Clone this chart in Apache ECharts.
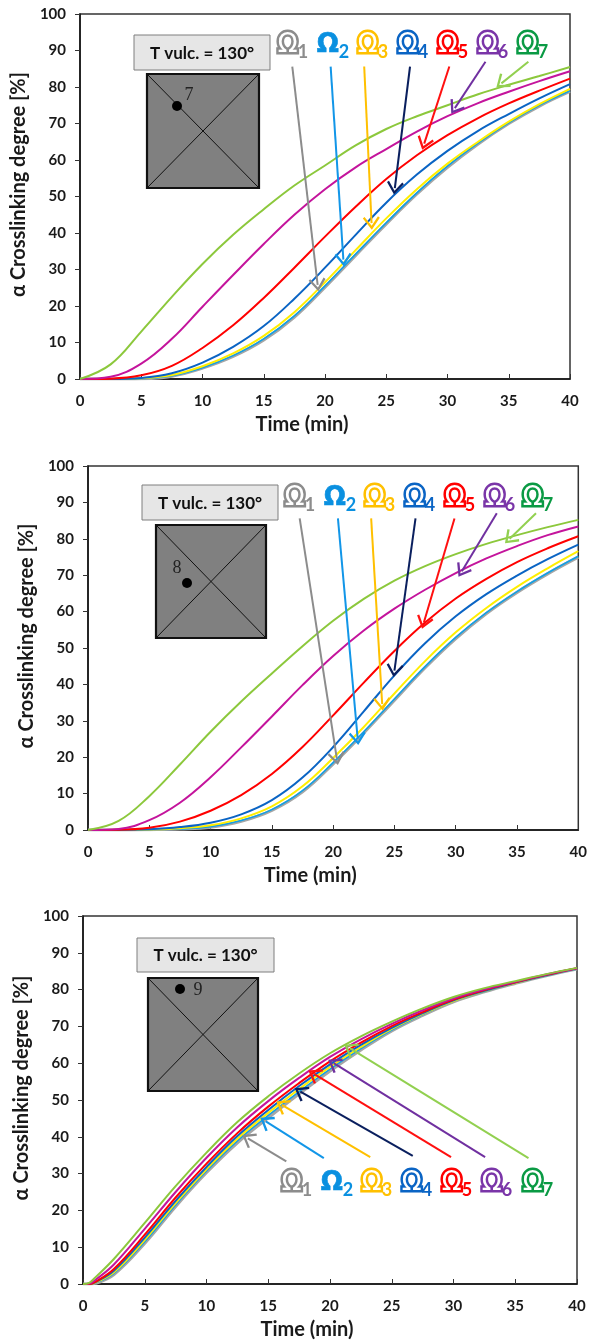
<!DOCTYPE html>
<html><head><meta charset="utf-8">
<script src="https://cdn.jsdelivr.net/npm/echarts@6/dist/echarts.min.js"></script>
<style>html,body{margin:0;padding:0;background:#fff}#c{width:590px;height:1343px}</style>
</head><body><div id="c"></div>
<script>
// ---------------- DATA ----------------
const seriesNames = ['Ω1','Ω2','Ω3','Ω4','Ω5','Ω6','Ω7'];
const xTicks = [0,5,10,15,20,25,30,35,40];
const yTicks = [0,10,20,30,40,50,60,70,80,90,100];

// Panel 1 (point 7)
const time1 = [0,2.5,5,7.5,10,12.5,15,17.5,20,22.5,25,27.5,30,32.5,35,37.5,40];
const p1_O1 = [0,0,0.1,0.8,3,6.2,10.7,17,25.2,33.9,42.5,50.7,58,64.4,70,74.8,78.8];
const p1_O2 = [0,0,0.1,0.9,3.1,6.4,11,17.3,25.5,34.2,42.8,51,58.3,64.6,70.2,75,79];
const p1_O3 = [0,0,0.2,1.1,3.5,7,11.8,18.3,26.5,35.3,44,52,59,65,70.5,75.3,79.5];
const p1_O4 = [0,0,0.3,1.6,4.5,8.8,14.5,22,30.5,39.5,48.3,56,62.5,68,72.6,76.9,80.8];
const p1_O5 = [0,0.1,1,3.6,8.5,14.7,22.2,30.5,39,47.2,54.8,61.3,66.8,71.5,75.5,79,82.3];
const p1_O6 = [0,0.6,4.2,11,19.8,28.5,37,45,52,58,63,67.8,72,75.6,78.7,81.6,84.3];
const p1_O7 = [0,4,13,22.5,31.5,39.5,46.5,53,58.5,64,68.5,72,75,78,80.6,83,85.5];
const p1_arrowStart = [[17.33,85.6],[20.46,85.6],[23.2,85.6],[26.94,85.6],[30.15,85.6],[33.1,86.9],[36.6,86.9]];
const p1_arrowEnd   = [[19.4,25.8],[21.5,32.7],[23.8,42.7],[25.7,52.3],[28.1,64.5],[30.6,74.2],[34.4,81]];

// Panel 2 (point 8)
const time2 = [0,2.5,5,7.5,10,12.5,15,17.5,20,22.5,25,27.5,30,32.5,35,37.5,40];
const p2_O1 = [0,0,0.1,0.3,0.8,2.4,5.4,10.5,18.2,26.7,35.7,44.6,52.6,59.5,65.3,70.4,75];
const p2_O2 = [0,0,0.1,0.3,0.9,2.6,5.6,10.8,18.5,27,36,44.9,52.9,59.7,65.5,70.6,75.2];
const p2_O3 = [0,0,0.15,0.5,1.3,3.2,6.5,12,19.8,28.3,37.5,46.4,54.3,61,66.8,71.9,76.6];
const p2_O4 = [0,0,0.2,0.8,2,4.3,8.2,14.4,22.8,32.6,42.5,51.3,58.7,64.8,69.9,74.4,78.4];
const p2_O5 = [0,0.05,0.6,2.3,5.3,9.6,15.4,22.8,31.5,40.5,49.2,57,63.6,69,73.6,77.4,80.7];
const p2_O6 = [0,0.3,2.7,7.5,14.5,22.7,31.2,39.8,47.8,54.8,60.8,66,70.6,74.6,78,81,83.4];
const p2_O7 = [0,2.5,9.3,18,27,35.3,43,50.5,57.5,63.5,68.5,72.5,75.8,78.6,81,83.2,85.2];
const p2_arrowStart = [[17.27,85.6],[20.39,85.6],[23.1,85.6],[26.72,85.6],[29.9,85.6],[33.35,87],[36.55,87]];
const p2_arrowEnd   = [[20.3,19.6],[22,25.1],[24,34.6],[25,43.8],[27.4,57],[30.5,71.1],[34.4,80]];

// Panel 3 (point 9)
const time3 = [0,0.5,1,2.5,5,7.5,10,12.5,15,17.5,20,22.5,25,27.5,30,32.5,35,37.5,40];
const p3_O1 = [0,0,0.2,2.6,11.1,21.1,30.3,38.4,45.2,51.7,57.9,63.6,68.8,73,76.7,79.4,81.7,83.8,85.6];
const p3_O2 = [0,0,0.3,2.9,11.5,21.5,30.7,38.9,45.8,52.3,58.4,64,69,73.2,76.8,79.5,81.8,83.8,85.6];
const p3_O3 = [0,0,0.4,3.2,12,22,31.2,39.5,46.5,53,59,64.4,69.3,73.4,76.9,79.6,81.8,83.9,85.7];
const p3_O4 = [0,0,0.5,3.6,12.6,22.6,31.8,40.2,47.3,53.8,59.7,65,69.6,73.6,77.1,79.7,81.9,83.9,85.7];
const p3_O5 = [0,0,0.6,4.1,13.4,23.5,32.7,41,48.2,54.6,60.5,65.6,70.1,73.9,77.3,79.9,82,84,85.8];
const p3_O6 = [0,0.1,1.1,5.3,15,25,34.3,42.6,49.7,56,61.7,66.5,70.7,74.4,77.6,80.1,82.1,84.1,85.8];
const p3_O7 = [0,0.3,1.8,6.8,16.6,26.6,35.7,44,51,57.2,62.7,67.3,71.3,74.9,78,80.4,82.3,84.2,85.9];
const p3_arrowStart = [[16.46,33.3],[19.5,34.2],[23.26,34.5],[26.7,34.8],[29.8,34.5],[32.56,34.5],[36.07,34.2]];
const p3_arrowEnd   = [[13.35,39.6],[14.8,44.2],[16.1,48.7],[17.6,52.3],[18.7,57.1],[20.3,60],[21.6,64.1]];

const pointLabels = ['7','8','9'];
const tempLabel = 'T vulc. = 130°';
const xTitle = 'Time (min)';
const yTitle = 'α Crosslinking degree [%]';

// ---------------- STYLE ----------------
const curveColors = ['#a6a6a6','#12a0e6','#ffee00','#0a64c4','#ff0000','#c4149c','#8cc83c'];
const curveWidths = [3.2,1.6,2,2,2,2,2];
const arrowColors = ['#8c8c8c','#1296e8','#ffc000','#0a1f5e','#ff1010','#7030a0','#92d050'];
const labelColors = ['#8c8c8c','#0a90e0','#ffc000','#0a64c4','#ff0000','#7a35a8','#0a9a44'];
const labelOutline = [true,false,true,true,true,true,true];
const FONT = 'Lato, "Open Sans", "DejaVu Sans", sans-serif';

const grids = [
  {left:80, top:14, width:490, height:365},
  {left:88, top:466, width:491, height:364},
  {left:83, top:916, width:494, height:368}
];
const panels = [
  {time:time1, data:[p1_O1,p1_O2,p1_O3,p1_O4,p1_O5,p1_O6,p1_O7], aS:p1_arrowStart, aE:p1_arrowEnd},
  {time:time2, data:[p2_O1,p2_O2,p2_O3,p2_O4,p2_O5,p2_O6,p2_O7], aS:p2_arrowStart, aE:p2_arrowEnd},
  {time:time3, data:[p3_O1,p3_O2,p3_O3,p3_O4,p3_O5,p3_O6,p3_O7], aS:p3_arrowStart, aE:p3_arrowEnd}
];
// decoration positions (pixels)
const deco = [
  {box:[134,35,136,35], sq:[147,74,112,114], dot:[177,106], num:[189,95], lab:{y:45, x:[293,333,373,413,453,493,533]}},
  {box:[142,485,136,35], sq:[156,525,110,113], dot:[187,583], num:[177,568], lab:{y:498, x:[300,340,380,420,460,500,538]}},
  {box:[137,938,137,34], sq:[148,978,110,113], dot:[180,989], num:[198,990], lab:{y:1183, x:[297,337,377,417,457,497,538]}}
];

const chevron = 'path://M12,0 L24,15 L21.5,17 L12,5 L2.5,17 L0,15 Z';

const xAxes = [], yAxes = [], series = [], graphic = [];
grids.forEach((g, i) => {
  xAxes.push({
    type:'value', gridIndex:i, min:0, max:40, interval:5,
    name: xTitle, nameLocation:'middle', nameGap: 36,
    nameTextStyle:{fontFamily:FONT, fontWeight:'bold', fontSize:20, color:'#1a1a1a', padding:[0,46,0,0]},
    axisLine:{show:true, onZero:false, lineStyle:{color:'#111', width:1.5}},
    axisTick:{show:true, inside:true, length:5, lineStyle:{color:'#333'}},
    splitLine:{show:false},
    axisLabel:{fontFamily:FONT, fontWeight:'bold', fontSize:15, color:'#1a1a1a', margin:15,
      formatter: v => xTicks.includes(v) ? String(v) : ''}
  });
  yAxes.push({
    type:'value', gridIndex:i, min:0, max:100, interval:10,
    name: yTitle, nameLocation:'middle', nameRotate:90, nameGap:50,
    nameTextStyle:{fontFamily:FONT, fontWeight:'bold', fontSize:20, color:'#1a1a1a', padding:[0,0,0,24]},
    axisLine:{show:true, lineStyle:{color:'#111', width:1.5}},
    axisTick:{show:true, inside:false, length:5, lineStyle:{color:'#333'}},
    splitLine:{show:false},
    axisLabel:{fontFamily:FONT, fontWeight:'bold', fontSize:15, color:'#1a1a1a', margin:14,
      formatter: v => yTicks.includes(v) ? String(v) : ''}
  });
  const p = panels[i];
  for (let k = 0; k < 7; k++) {
    series.push({
      type:'line', name: seriesNames[k] + ' (' + pointLabels[i] + ')',
      xAxisIndex:i, yAxisIndex:i, smooth:0.4, showSymbol:false, silent:true, animation:false,
      z: 2 + k,
      data: p.time.map((t, j) => [t, p.data[k][j]]),
      lineStyle:{color:curveColors[k], width:curveWidths[k]},
      markLine:{
        silent:true, animation:false, symbol:['none', chevron], symbolSize:[17, 13],
        label:{show:false}, z: 20,
        lineStyle:{color:arrowColors[k], width:2, type:'solid'},
        data:[[{coord:p.aS[k]}, {coord:p.aE[k]}]]
      }
    });
  }
  // decorations
  const d = deco[i];
  graphic.push({type:'rect', shape:{x:d.box[0], y:d.box[1], width:d.box[2], height:d.box[3]},
    style:{fill:'#e6e6e6', stroke:'#7f7f7f', lineWidth:1}, z:50});
  graphic.push({type:'text', x:d.box[0]+d.box[2]/2, y:d.box[1]+d.box[3]/2+1,
    style:{text:tempLabel, fill:'#111', font:'bold 17px ' + FONT, align:'center', verticalAlign:'middle'}, z:51});
  const s = d.sq;
  graphic.push({type:'rect', shape:{x:s[0], y:s[1], width:s[2], height:s[3]},
    style:{fill:'#808080', stroke:'#111', lineWidth:2.2}, z:50});
  graphic.push({type:'line', shape:{x1:s[0], y1:s[1], x2:s[0]+s[2], y2:s[1]+s[3]}, style:{stroke:'#111', lineWidth:1}, z:51});
  graphic.push({type:'line', shape:{x1:s[0]+s[2], y1:s[1], x2:s[0], y2:s[1]+s[3]}, style:{stroke:'#111', lineWidth:1}, z:51});
  graphic.push({type:'circle', shape:{cx:d.dot[0], cy:d.dot[1], r:5}, style:{fill:'#000'}, z:52});
  graphic.push({type:'text', x:d.num[0], y:d.num[1],
    style:{text:pointLabels[i], fill:'#222', font:'18px "Liberation Serif", "DejaVu Serif", serif', align:'center', verticalAlign:'middle'}, z:52});
  for (let k = 0; k < 7; k++) {
    const outline = labelOutline[k];
    graphic.push({type:'text', x:d.lab.x[k], y:d.lab.y, z:53,
      style:{text:'{a|Ω}{b|' + (k+1) + '}', align:'center', verticalAlign:'middle',
        rich:{
          a:{fontFamily:'"DejaVu Sans", ' + FONT, fontWeight: outline ? 'normal' : 'bold', fontSize:26,
             fill: outline ? '#ffffff' : labelColors[k],
             stroke: labelColors[k], lineWidth: outline ? 5 : 0.6, lineHeight:32},
          b:{fontFamily:FONT, fontWeight:'bold', fontSize:18, fill:labelColors[k], lineHeight:32,
             padding:[12,0,0,0], verticalAlign:'bottom'}
        }}});
  }
});

const chart = echarts.init(document.getElementById('c'), null, {renderer:'canvas'});
chart.setOption({
  backgroundColor:'#fff',
  animation:false,
  grid: grids.map(g => Object.assign({show:true, borderColor:'#333', borderWidth:1.5, backgroundColor:'transparent', containLabel:false}, g)),
  xAxis: xAxes, yAxis: yAxes, series: series, graphic: graphic
});
</script></body></html>
